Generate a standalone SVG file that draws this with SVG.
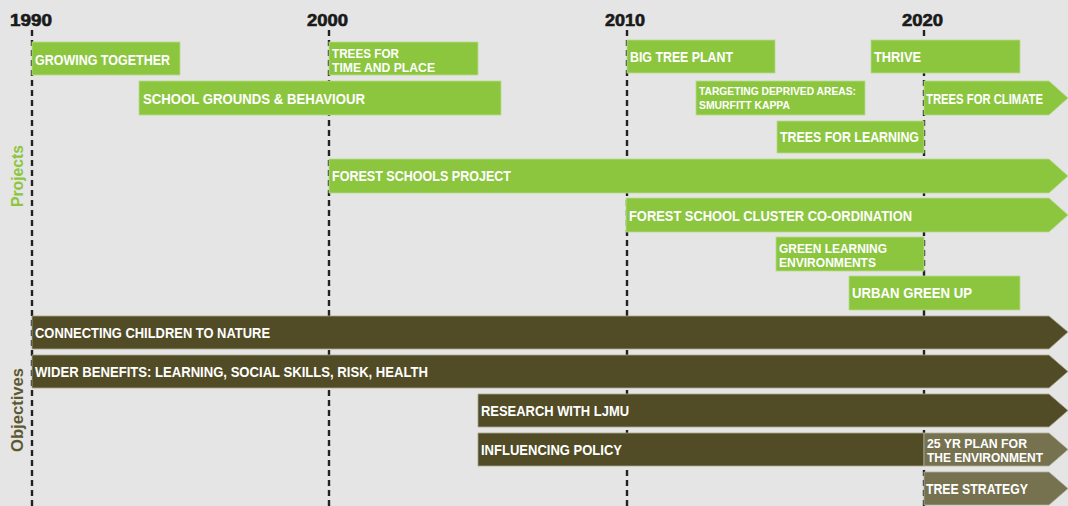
<svg xmlns="http://www.w3.org/2000/svg" width="1068" height="506" viewBox="0 0 1068 506">
  <style>
    .bg { fill: #e5e5e5; }
    .year { font-family: "Liberation Sans", Arial, sans-serif; font-weight: bold; font-size: 16px; fill: #1a1a1a; stroke: #1a1a1a; stroke-width: 0.6; text-anchor: middle; }
    .grid { stroke: #222; stroke-width: 2.4; stroke-dasharray: 6 4; fill: none; }
    .proj { fill: #8cc63f; stroke: #b8dc8c; stroke-width: 0.8; }
    .obj { fill: #524c26; stroke: #a8a690; stroke-width: 0.8; }
    .obj2 { fill: #76714f; stroke: #b0ae9a; stroke-width: 0.8; }
    .lbl { font-family: "Liberation Sans", Arial, sans-serif; font-weight: bold; font-size: 15px; fill: #ffffff; }
    .lbl2 { font-family: "Liberation Sans", Arial, sans-serif; font-weight: bold; font-size: 13.5px; fill: #ffffff; }
    .lbl3 { font-family: "Liberation Sans", Arial, sans-serif; font-weight: bold; font-size: 10.5px; fill: #ffffff; }
    .side { font-family: "Liberation Sans", Arial, sans-serif; font-weight: bold; font-size: 16px; text-anchor: middle; }
  </style>

  <rect class="bg" x="0" y="0" width="1068" height="506"/>

  <!-- decade markers -->
  <g id="years">
    <text class="year" x="31" y="26" textLength="42" lengthAdjust="spacingAndGlyphs">1990</text>
    <text class="year" x="327.5" y="26" textLength="41" lengthAdjust="spacingAndGlyphs">2000</text>
    <text class="year" x="625" y="26" textLength="40" lengthAdjust="spacingAndGlyphs">2010</text>
    <text class="year" x="922.5" y="26" textLength="41" lengthAdjust="spacingAndGlyphs">2020</text>
  </g>

  <!-- dashed decade guides -->
  <g id="connectors">
    <line class="grid" x1="32" y1="30" x2="32" y2="506"/>
    <line class="grid" x1="329" y1="30" x2="329" y2="506"/>
    <line class="grid" x1="627" y1="30" x2="627" y2="506"/>
    <line class="grid" x1="924" y1="30" x2="924" y2="506"/>
  </g>

  <!-- section labels -->
  <g id="section-labels">
    <text class="side" fill="#8cc63f" transform="translate(23,176) rotate(-90)" textLength="62" lengthAdjust="spacingAndGlyphs">Projects</text>
    <text class="side" fill="#5d5830" transform="translate(23,410) rotate(-90)" textLength="84" lengthAdjust="spacingAndGlyphs">Objectives</text>
  </g>

  <!-- projects -->
  <g id="growing-together">
    <rect class="proj" x="32" y="42" width="148" height="33"/>
    <text class="lbl" x="35" y="65" textLength="135" lengthAdjust="spacingAndGlyphs">GROWING TOGETHER</text>
  </g>
  <g id="trees-for-time-and-place">
    <rect class="proj" x="329" y="42" width="149" height="33"/>
    <text class="lbl2" x="332" y="58" textLength="67" lengthAdjust="spacingAndGlyphs">TREES FOR</text>
    <text class="lbl2" x="332" y="72" textLength="103" lengthAdjust="spacingAndGlyphs">TIME AND PLACE</text>
  </g>
  <g id="big-tree-plant">
    <rect class="proj" x="627" y="40" width="148" height="33"/>
    <text class="lbl" x="630" y="62" textLength="103" lengthAdjust="spacingAndGlyphs">BIG TREE PLANT</text>
  </g>
  <g id="thrive">
    <rect class="proj" x="871" y="40" width="149" height="33"/>
    <text class="lbl" x="874" y="62" textLength="47" lengthAdjust="spacingAndGlyphs">THRIVE</text>
  </g>
  <g id="school-grounds">
    <rect class="proj" x="139" y="81" width="362" height="34"/>
    <text class="lbl" x="143" y="104" textLength="222" lengthAdjust="spacingAndGlyphs">SCHOOL GROUNDS &amp; BEHAVIOUR</text>
  </g>
  <g id="targeting-deprived-areas">
    <rect class="proj" x="696" y="81" width="169" height="34"/>
    <text class="lbl3" x="699" y="95" textLength="157" lengthAdjust="spacingAndGlyphs">TARGETING DEPRIVED AREAS:</text>
    <text class="lbl3" x="699" y="109" textLength="91" lengthAdjust="spacingAndGlyphs">SMURFITT KAPPA</text>
  </g>
  <g id="trees-for-climate">
    <polygon class="proj" points="924,81 1049,81 1068,98 1049,115 924,115"/>
    <text class="lbl" x="926" y="104" textLength="117" lengthAdjust="spacingAndGlyphs">TREES FOR CLIMATE</text>
  </g>
  <g id="trees-for-learning">
    <rect class="proj" x="777" y="121" width="147" height="32"/>
    <text class="lbl" x="780" y="142" textLength="139" lengthAdjust="spacingAndGlyphs">TREES FOR LEARNING</text>
  </g>
  <g id="forest-schools-project">
    <polygon class="proj" points="329,159 1049,159 1068,176 1049,193 329,193"/>
    <text class="lbl" x="332" y="181" textLength="179" lengthAdjust="spacingAndGlyphs">FOREST SCHOOLS PROJECT</text>
  </g>
  <g id="forest-school-cluster">
    <polygon class="proj" points="626,198 1049,198 1068,215 1049,232 626,232"/>
    <text class="lbl" x="629" y="221" textLength="283" lengthAdjust="spacingAndGlyphs">FOREST SCHOOL CLUSTER CO-ORDINATION</text>
  </g>
  <g id="green-learning-environments">
    <rect class="proj" x="776" y="237" width="148" height="34"/>
    <text class="lbl2" x="779" y="253" textLength="108" lengthAdjust="spacingAndGlyphs">GREEN LEARNING</text>
    <text class="lbl2" x="779" y="267" textLength="97" lengthAdjust="spacingAndGlyphs">ENVIRONMENTS</text>
  </g>
  <g id="urban-green-up">
    <rect class="proj" x="849" y="276" width="171" height="34"/>
    <text class="lbl" x="852" y="298" textLength="120" lengthAdjust="spacingAndGlyphs">URBAN GREEN UP</text>
  </g>

  <!-- objectives -->
  <g id="connecting-children">
    <polygon class="obj" points="32,316 1049,316 1068,332 1049,349 32,349"/>
    <text class="lbl" x="35" y="338" textLength="235" lengthAdjust="spacingAndGlyphs">CONNECTING CHILDREN TO NATURE</text>
  </g>
  <g id="wider-benefits">
    <polygon class="obj" points="32,355 1049,355 1068,371.5 1049,388 32,388"/>
    <text class="lbl" x="35" y="377" textLength="393" lengthAdjust="spacingAndGlyphs">WIDER BENEFITS: LEARNING, SOCIAL SKILLS, RISK, HEALTH</text>
  </g>
  <g id="research-ljmu">
    <polygon class="obj" points="478,394 1049,394 1068,410.5 1049,427 478,427"/>
    <text class="lbl" x="481" y="416" textLength="148" lengthAdjust="spacingAndGlyphs">RESEARCH WITH LJMU</text>
  </g>
  <g id="influencing-policy">
    <rect class="obj" x="478" y="433" width="446" height="33"/>
    <text class="lbl" x="481" y="455" textLength="141" lengthAdjust="spacingAndGlyphs">INFLUENCING POLICY</text>
  </g>
  <g id="plan-25yr">
    <polygon class="obj2" points="924,433 1049,433 1068,449.5 1049,466 924,466"/>
    <text class="lbl2" x="927" y="448" textLength="100" lengthAdjust="spacingAndGlyphs">25 YR PLAN FOR</text>
    <text class="lbl2" x="927" y="462" textLength="116" lengthAdjust="spacingAndGlyphs">THE ENVIRONMENT</text>
  </g>
  <g id="tree-strategy">
    <polygon class="obj2" points="924,472 1049,472 1068,488.5 1049,505 924,505"/>
    <text class="lbl" x="926" y="494" textLength="102" lengthAdjust="spacingAndGlyphs">TREE STRATEGY</text>
  </g>
</svg>
